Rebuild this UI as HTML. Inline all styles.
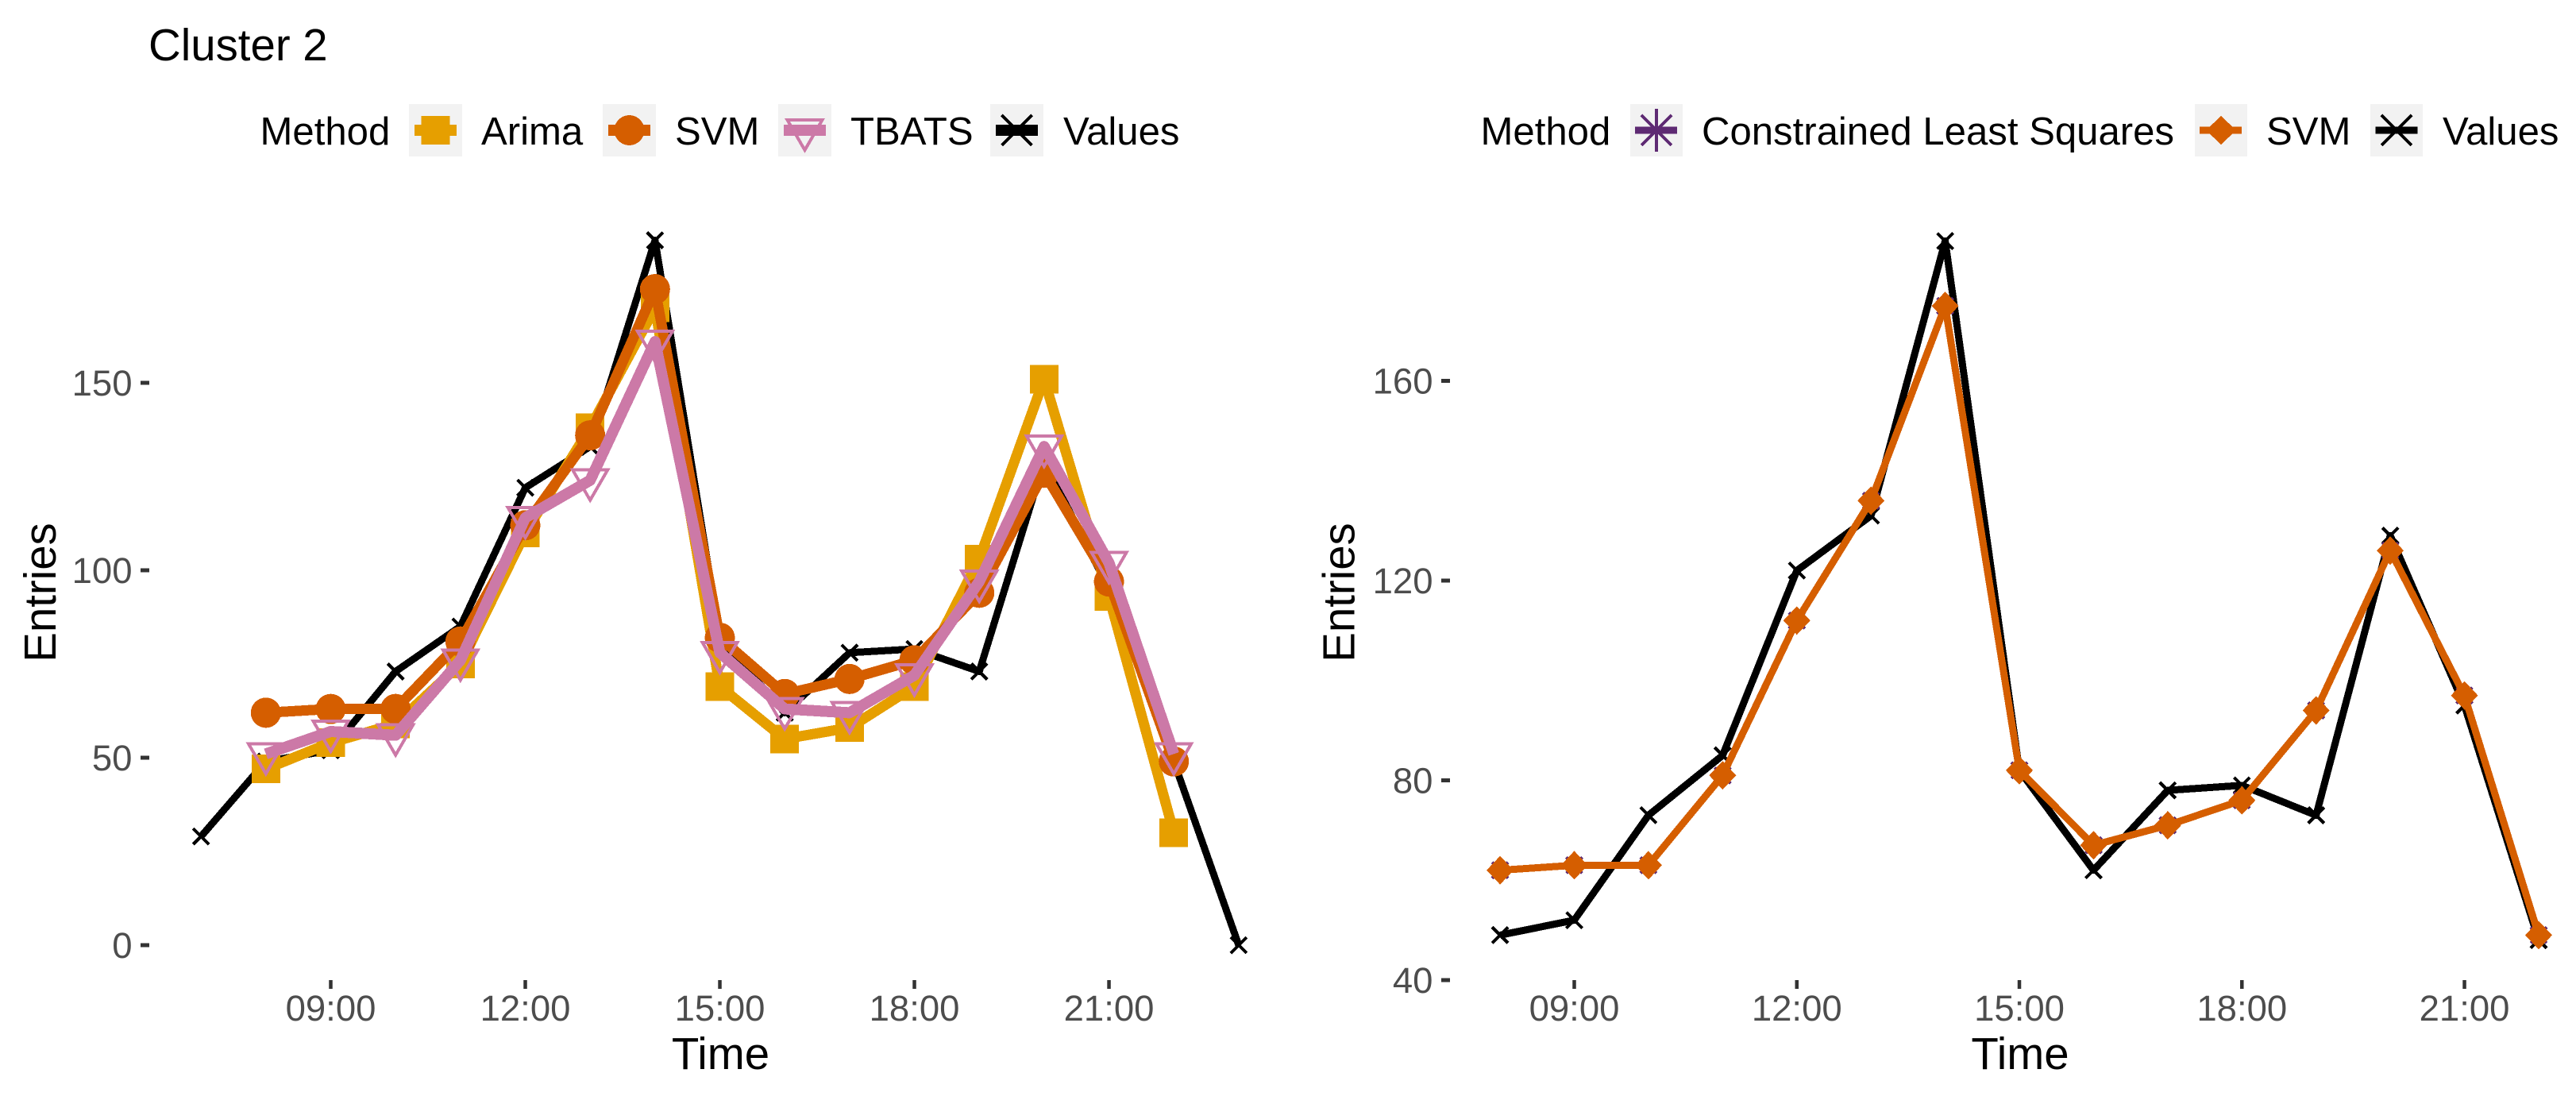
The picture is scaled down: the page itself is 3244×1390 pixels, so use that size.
<!DOCTYPE html>
<html lang="en">
<head>
<meta charset="utf-8">
<title>Cluster 2 entries by method</title>
<style>
html,body{margin:0;padding:0;background:#fff;}
svg{display:block;font-family:"Liberation Sans",Arial,sans-serif;}
.lg{font-size:49.1px;fill:#000;}
.at{font-size:56.4px;fill:#000;}
.tk{font-size:45.5px;fill:#4d4d4d;}
</style>
</head>
<body>
<svg id="chart" width="3244" height="1390" viewBox="0 0 3244 1390">
  <rect width="3244" height="1390" fill="#fff"/>
  <text class="at" x="187" y="76">Cluster 2</text>

  <g shape-rendering="crispEdges">
    <text class="lg" x="327.5" y="182">Method</text>
    <g>
      <rect x="515" y="131" width="67" height="66" fill="#f2f2f2"/>
      <line x1="522" x2="575" y1="164" y2="164" stroke="#E69F00" stroke-width="14"/>
      <rect x="530.5" y="146" width="36" height="36" fill="#E69F00"/>
      <text class="lg" x="606" y="182">Arima</text>
    </g>
    <g>
      <rect x="759" y="131" width="67" height="66" fill="#f2f2f2"/>
      <line x1="766" x2="819" y1="164" y2="164" stroke="#D55E00" stroke-width="14"/>
      <circle cx="792.5" cy="164" r="19" fill="#D55E00"/>
      <text class="lg" x="850" y="182">SVM</text>
    </g>
    <g>
      <rect x="980" y="131" width="67" height="66" fill="#f2f2f2"/>
      <path d="M991.5 151 H1035.5 L1013.5 189 Z" fill="none" stroke="#CC79A7" stroke-width="4"/>
      <line x1="987" x2="1040" y1="164" y2="164" stroke="#CC79A7" stroke-width="14"/>
      <text class="lg" x="1071" y="182">TBATS</text>
    </g>
    <g>
      <rect x="1247" y="131" width="67" height="66" fill="#f2f2f2"/>
      <path d="M1261.5 145 L1299.5 183 M1299.5 145 L1261.5 183" stroke="#000" stroke-width="4"/>
      <line x1="1254" x2="1307" y1="164" y2="164" stroke="#000" stroke-width="14"/>
      <text class="lg" x="1339" y="182">Values</text>
    </g>
  </g>

  <g shape-rendering="crispEdges">
    <text class="lg" x="1864.5" y="182">Method</text>
    <g>
      <rect x="2053" y="131" width="66" height="66" fill="#f2f2f2"/>
      <path d="M2086 137 V191 M2067 145 L2105 183 M2105 145 L2067 183" stroke="#5E2A73" stroke-width="4" fill="none"/>
      <line x1="2059" x2="2112" y1="164" y2="164" stroke="#5E2A73" stroke-width="9"/>
      <text class="lg" x="2143" y="182">Constrained Least Squares</text>
    </g>
    <g>
      <rect x="2764" y="131" width="66" height="66" fill="#f2f2f2"/>
      <line x1="2770" x2="2823" y1="164" y2="164" stroke="#D55E00" stroke-width="9"/>
      <path d="M2797 146 L2816 164 L2797 182 L2778 164 Z" fill="#D55E00"/>
      <text class="lg" x="2854" y="182">SVM</text>
    </g>
    <g>
      <rect x="2985" y="131" width="66" height="66" fill="#f2f2f2"/>
      <path d="M2999 145 L3037 183 M3037 145 L2999 183" stroke="#000" stroke-width="4"/>
      <line x1="2991.5" x2="3044.5" y1="164" y2="164" stroke="#000" stroke-width="9"/>
      <text class="lg" x="3076" y="182">Values</text>
    </g>
  </g>

  <g id="left-panel"></g>
  <g id="right-panel"></g>

  <text class="at" text-anchor="middle" transform="translate(70 746) rotate(-90)">Entries</text>
  <text class="at" text-anchor="middle" x="907.5" y="1346">Time</text>
  <text class="at" text-anchor="middle" transform="translate(1705.5 746) rotate(-90)">Entries</text>
  <text class="at" text-anchor="middle" x="2544" y="1346">Time</text>
</svg>
<script>
const leftValuesHours = [7,8,9,10,11,12,13,14,15,16,17,18,19,20,21,22,23];
const leftValues = [29,49,52,73,85,122,133,188,82,62,78,79,73,129,95,49,0];
const methodHours = [8,9,10,11,12,13,14,15,16,17,18,19,20,21,22];
const arimaValues = [47,54,59,75,110,138,170,69,55,58,69,103,151,93,30];
const svmValues = [62,63,63,81,112,136,175,82,67,71,76,94,126,97,49];
const tbatsValues = [51,57,56,76,114,124,161,78,63,62,72,97,133,102,51];
const rightValues = [49,52,73,85,122,133,188,82,62,78,79,73,129,95,48];
const constrainedValues = [62,63,63,81,112,136,175,82,67,71,76,94,126,97,49];
const rightSvmValues = [62,63,63,81,112,136,175,82,67,71,76,94,126,97,49];
const timeTickHours = [9,12,15,18,21];
const timeTickLabels = ['09:00','12:00','15:00','18:00','21:00'];
const leftYTicks = [0,50,100,150];
const rightYTicks = [40,80,120,160];

const SVG_NS = 'http://www.w3.org/2000/svg';
const xLeft = h => 416.5 + 81.67 * (h - 9);
const yLeft = v => 1190 - 4.72 * v;
const xRight = h => 1982.5 + 93.42 * (h - 9);
const yRight = v => 1234 - 6.2875 * (v - 40);

function make(parent, tag, attrs) {
  const el = document.createElementNS(SVG_NS, tag);
  for (const k in attrs) el.setAttribute(k, attrs[k]);
  parent.appendChild(el);
  return el;
}

const markers = {
  square(g, cx, cy, c) {
    make(g, 'rect', {x: cx - 18, y: cy - 18, width: 36, height: 36, fill: c});
  },
  circle(g, cx, cy, c) {
    make(g, 'circle', {cx: cx, cy: cy, r: 19, fill: c});
  },
  triangle(g, cx, cy, c) {
    make(g, 'path', {d: `M${cx - 22} ${cy - 13}H${cx + 22}L${cx} ${cy + 25}Z`, fill: 'none', stroke: c, 'stroke-width': 4});
  },
  cross(g, cx, cy, c) {
    make(g, 'path', {d: `M${cx - 10} ${cy - 10}L${cx + 10} ${cy + 10}M${cx + 10} ${cy - 10}L${cx - 10} ${cy + 10}`, fill: 'none', stroke: c, 'stroke-width': 4});
  },
  star(g, cx, cy, c) {
    make(g, 'path', {d: `M${cx - 10} ${cy - 10}L${cx + 10} ${cy + 10}M${cx + 10} ${cy - 10}L${cx - 10} ${cy + 10}M${cx} ${cy - 15}V${cy + 15}M${cx - 15} ${cy}H${cx + 15}`, fill: 'none', stroke: c, 'stroke-width': 4});
  },
  diamond(g, cx, cy, c) {
    make(g, 'path', {d: `M${cx} ${cy - 18}L${cx + 17} ${cy}L${cx} ${cy + 18}L${cx - 17} ${cy}Z`, fill: c});
  }
};

function drawSeries(panel, seriesName, hours, vals, color, width, marker, x, y) {
  const g = make(panel, 'g', {'shape-rendering': 'crispEdges'});
  
  
  const pts = hours.map((h, i) => x(h).toFixed(1) + ',' + y(vals[i]).toFixed(1)).join(' ');
  const line = make(g, 'polyline', {points: pts, fill: 'none', stroke: color, 'stroke-width': width, 'stroke-linejoin': 'round', 'stroke-linecap': 'butt'});
  
  
  hours.forEach((h, i) => {
    const p = make(g, 'g', {});
    
    
    markers[marker](p, x(h), y(vals[i]), color);
  });
}

function drawAxes(panel, side, yTicks, x, y, tickX, axisY) {
  timeTickHours.forEach((h, i) => {
    const t = make(panel, 'rect', {x: x(h) - 2.25, y: axisY, width: 4.5, height: 11, fill: '#333333'});
    
    
    const l = make(panel, 'text', {x: x(h), y: 1285, 'text-anchor': 'middle', class: 'tk'});
    l.textContent = timeTickLabels[i];
    
    
  });
  yTicks.forEach(v => {
    const t = make(panel, 'rect', {x: tickX, y: y(v) - 2.5, width: 11, height: 5, fill: '#333333'});
    
    
    const l = make(panel, 'text', {x: tickX - 10.5, y: y(v) + 16, 'text-anchor': 'end', class: 'tk'});
    l.textContent = String(v);
    
    
  });
}

const leftPanel = document.getElementById('left-panel');
drawAxes(leftPanel, 'left', leftYTicks, xLeft, yLeft, 177, 1234);
drawSeries(leftPanel, 'values', leftValuesHours, leftValues, '#000000', 9, 'cross', xLeft, yLeft);
drawSeries(leftPanel, 'arima', methodHours, arimaValues, '#E69F00', 13, 'square', xLeft, yLeft);
drawSeries(leftPanel, 'svm', methodHours, svmValues, '#D55E00', 13, 'circle', xLeft, yLeft);
drawSeries(leftPanel, 'tbats', methodHours, tbatsValues, '#CC79A7', 14, 'triangle', xLeft, yLeft);

const rightPanel = document.getElementById('right-panel');
drawAxes(rightPanel, 'right', rightYTicks, xRight, yRight, 1815, 1234);
drawSeries(rightPanel, 'right-values', methodHours, rightValues, '#000000', 9, 'cross', xRight, yRight);
drawSeries(rightPanel, 'constrained-least-squares', methodHours, constrainedValues, '#5E2A73', 9, 'star', xRight, yRight);
drawSeries(rightPanel, 'right-svm', methodHours, rightSvmValues, '#D55E00', 9, 'diamond', xRight, yRight);
</script>
</body>
</html>
